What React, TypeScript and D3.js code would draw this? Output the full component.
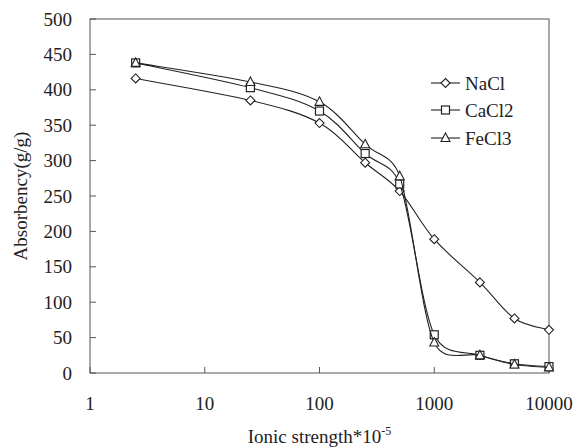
import React from "react";
import * as d3 from "d3";

// Ionic strength (×10⁻⁵) at which absorbency was measured
const ionicStrength = [2.5, 25, 100, 250, 500, 1000, 2500, 5000, 10000];

// Absorbency (g/g) for each salt solution
const nacl = [416, 385, 353, 297, 257, 189, 128, 77, 61];
const cacl2 = [438, 403, 370, 310, 267, 54, 25, 13, 9];
const fecl3 = [438, 411, 383, 323, 278, 43, 25, 12, 8];

const seriesNames = ["NaCl", "CaCl2", "FeCl3"];
const seriesValues = [nacl, cacl2, fecl3];
const markerTypes = ["diamond", "square", "triangle"];

const xTicks = [1, 10, 100, 1000, 10000];
const yTicks = [0, 50, 100, 150, 200, 250, 300, 350, 400, 450, 500];

const W = 576;
const H = 448;
const left = 90;
const right = 549;
const top = 19;
const bottom = 373;
const FONT = "Liberation Serif, Times New Roman, serif";
const AXIS = "#555";
const textStyle = { fontFamily: FONT, fontSize: "19px" };

const x = d3.scaleLog().domain([1, 10000]).range([left, right]);
const y = d3.scaleLinear().domain([0, 500]).range([bottom, top]);

// Bezier smoothing: Catmull-Rom style handles (1/6 of the neighbour chord),
// capped at half the length of the segment they belong to.
function smoothPath(pts: [number, number][]): string {
  const p = d3.path();
  const dist = (a: [number, number], b: [number, number]) => Math.hypot(b[0] - a[0], b[1] - a[1]);
  p.moveTo(pts[0][0], pts[0][1]);
  for (let i = 0; i < pts.length - 1; i++) {
    const p0 = pts[Math.max(0, i - 1)];
    const p1 = pts[i];
    const p2 = pts[i + 1];
    const p3 = pts[Math.min(pts.length - 1, i + 2)];
    const d12 = dist(p1, p2);
    const d02 = dist(p0, p2);
    const d13 = dist(p1, p3);
    const f1 = d02 > 0 ? Math.min(1 / 6, d12 / (2 * d02)) : 0;
    const f2 = d13 > 0 ? Math.min(1 / 6, d12 / (2 * d13)) : 0;
    p.bezierCurveTo(
      p1[0] + (p2[0] - p0[0]) * f1,
      p1[1] + (p2[1] - p0[1]) * f1,
      p2[0] - (p3[0] - p1[0]) * f2,
      p2[1] - (p3[1] - p1[1]) * f2,
      p2[0],
      p2[1]
    );
  }
  return p.toString();
}

function Marker({ type, cx, cy }: { type: string; cx: number; cy: number }) {
  const s = 4.5;
  if (type === "diamond") {
    return (
      <path
        d={`M${cx},${cy - s} L${cx + s},${cy} L${cx},${cy + s} L${cx - s},${cy} Z`}
        fill="#fff"
        stroke="#222"
        strokeWidth={1.1}
      />
    );
  }
  if (type === "square") {
    return (
      <rect x={cx - 4} y={cy - 4} width={8} height={8} fill="#fff" stroke="#222" strokeWidth={1.2} />
    );
  }
  return (
    <path
      d={`M${cx},${cy - 5} L${cx + 4.5},${cy + 3.5} L${cx - 4.5},${cy + 3.5} Z`}
      fill="#fff"
      stroke="#222"
      strokeWidth={1.1}
    />
  );
}

export default function App() {
  const legendY = [83, 110, 138];

  return (
    <svg
      width={W}
      height={H}
      viewBox={`0 0 ${W} ${H}`}
      style={{ position: "absolute", left: 0, top: 0, background: "#fff", fontFamily: FONT }}
    >
      {/* plot frame */}
      <rect x={left} y={top} width={right - left} height={bottom - top} fill="none" stroke={AXIS} strokeWidth={1} />

      {/* y axis ticks and labels */}
      {yTicks.map((t) => (
        <g key={`y${t}`}>
          <line x1={left} x2={left + 6} y1={y(t)} y2={y(t)} stroke={AXIS} />
          <text x={72} y={y(t)} dy="0.35em" textAnchor="end" style={textStyle} fill="#222">
            {t}
          </text>
        </g>
      ))}

      {/* x axis ticks and labels */}
      {xTicks.map((t) => (
        <g key={`x${t}`}>
          <line x1={x(t)} x2={x(t)} y1={bottom} y2={bottom - 6} stroke={AXIS} />
          <text x={x(t)} y={410} textAnchor="middle" style={textStyle} fill="#222">
            {t}
          </text>
        </g>
      ))}

      {/* axis titles */}
      <text
        transform={`translate(27,${(top + bottom) / 2}) rotate(-90)`}
        textAnchor="middle"
        style={textStyle}
        fill="#222"
      >
        Absorbency(g/g)
      </text>
      <text x={(left + right) / 2} y={443} textAnchor="middle" style={textStyle} fill="#222">
        Ionic strength*10
        <tspan dy={-8} style={{ fontFamily: FONT, fontSize: "12px" }}>
          -5
        </tspan>
      </text>

      {/* series */}
      {seriesValues.map((vals, si) => {
        const pts = vals.map((v, i) => [x(ionicStrength[i]), y(v)] as [number, number]);
        return (
          <g key={seriesNames[si]}>
            <path d={smoothPath(pts)} fill="none" stroke="#222" strokeWidth={1.1} />
            {pts.map(([px, py], i) => (
              <Marker key={i} type={markerTypes[si]} cx={px} cy={py} />
            ))}
          </g>
        );
      })}

      {/* legend */}
      {seriesNames.map((name, si) => (
        <g key={`lg${name}`}>
          <line x1={431} x2={460} y1={legendY[si]} y2={legendY[si]} stroke="#222" strokeWidth={1.1} />
          <Marker type={markerTypes[si]} cx={445.5} cy={legendY[si]} />
          <text x={465} y={legendY[si]} dy="0.35em" style={textStyle} fill="#222">
            {name}
          </text>
        </g>
      ))}
    </svg>
  );
}
